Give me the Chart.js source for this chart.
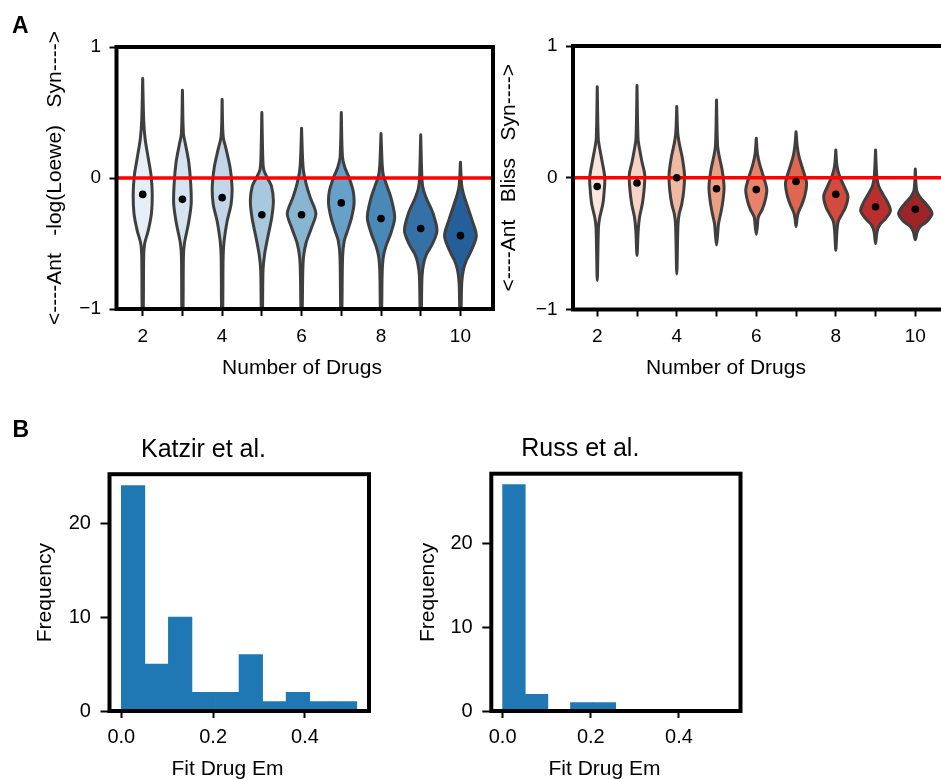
<!DOCTYPE html>
<html>
<head>
<meta charset="utf-8">
<script src="https://cdn.jsdelivr.net/npm/chart.js@4.4.0/dist/chart.umd.min.js"></script>
<style>
  html, body { margin: 0; padding: 0; background: #fff; overflow: hidden; width: 941px; height: 779px; }
  canvas { position: absolute; }
</style>
</head>
<body>
<canvas id="loewe" width="500" height="400" style="left:0;top:0"></canvas>
<canvas id="bliss" width="480" height="400" style="left:480px;top:0"></canvas>
<canvas id="katzir" width="400" height="369" style="left:0;top:410px"></canvas>
<canvas id="russ" width="400" height="369" style="left:400px;top:410px"></canvas>
<script>
Chart.defaults.font.family = "'Liberation Sans', Arial, Helvetica, sans-serif";
Chart.defaults.color = '#000';
Chart.defaults.animation = false;

// ---- data ----
var drugCounts = [2, 3, 4, 5, 6, 7, 8, 9, 10];

var loeweMedians = [-0.125, -0.163, -0.15, -0.28, -0.28, -0.19, -0.31, -0.385, -0.44];
var blissMedians = [-0.066, -0.04, 0.0, -0.084, -0.09, -0.028, -0.125, -0.22, -0.24];

// violin outline for each drug count, top to bottom: [score, half width (x units)]
var loeweShapes = [
  [[0.76, 0], [0.44, 0.025], [0.30, 0.06], [0.15, 0.14], [0.02, 0.21], [-0.12, 0.24], [-0.27, 0.22], [-0.40, 0.14], [-0.50, 0.05], [-0.60, 0.025], [-1.05, 0.012]],
  [[0.67, 0], [0.34, 0.025], [0.26, 0.075], [0.12, 0.16], [-0.05, 0.21], [-0.20, 0.22], [-0.35, 0.15], [-0.50, 0.05], [-0.60, 0.025], [-1.05, 0.012]],
  [[0.60, 0], [0.32, 0.025], [0.22, 0.10], [0.08, 0.20], [-0.07, 0.25], [-0.20, 0.225], [-0.33, 0.125], [-0.48, 0.05], [-0.60, 0.025], [-1.05, 0.012]],
  [[0.50, 0], [0.14, 0.025], [0.06, 0.05], [0.0, 0.14], [-0.06, 0.24], [-0.17, 0.29], [-0.30, 0.25], [-0.45, 0.15], [-0.58, 0.07], [-0.70, 0.03], [-1.05, 0.012]],
  [[0.38, 0], [0.15, 0.025], [0.05, 0.05], [-0.05, 0.12], [-0.15, 0.22], [-0.27, 0.36], [-0.38, 0.25], [-0.50, 0.11], [-0.60, 0.05], [-0.72, 0.03], [-1.05, 0.012]],
  [[0.50, 0], [0.16, 0.03], [0.08, 0.09], [0.0, 0.2], [-0.10, 0.30], [-0.20, 0.32], [-0.30, 0.26], [-0.40, 0.16], [-0.48, 0.075], [-0.60, 0.033], [-1.05, 0.012]],
  [[0.34, 0], [0.10, 0.03], [0.02, 0.06], [-0.06, 0.15], [-0.15, 0.25], [-0.30, 0.345], [-0.42, 0.25], [-0.52, 0.125], [-0.60, 0.06], [-0.72, 0.03], [-1.05, 0.012]],
  [[0.33, 0], [0.0, 0.03], [-0.08, 0.06], [-0.16, 0.15], [-0.27, 0.31], [-0.40, 0.41], [-0.50, 0.30], [-0.58, 0.15], [-0.65, 0.075], [-0.75, 0.033], [-1.05, 0.012]],
  [[0.12, 0], [-0.05, 0.03], [-0.12, 0.075], [-0.20, 0.16], [-0.32, 0.29], [-0.44, 0.40], [-0.55, 0.28], [-0.63, 0.15], [-0.70, 0.075], [-0.80, 0.033], [-1.05, 0.012]]
];

var blissShapes = [
  [[0.69, 0], [0.30, 0.025], [0.22, 0.063], [0.12, 0.125], [0.0, 0.19], [-0.10, 0.175], [-0.20, 0.14], [-0.30, 0.063], [-0.38, 0.03], [-0.78, 0]],
  [[0.70, 0], [0.30, 0.025], [0.22, 0.063], [0.12, 0.125], [0.02, 0.195], [-0.10, 0.175], [-0.20, 0.133], [-0.30, 0.063], [-0.40, 0.03], [-0.59, 0]],
  [[0.54, 0], [0.34, 0.025], [0.26, 0.063], [0.15, 0.14], [0.02, 0.195], [-0.10, 0.175], [-0.20, 0.125], [-0.28, 0.058], [-0.36, 0.03], [-0.73, 0]],
  [[0.59, 0], [0.25, 0.025], [0.17, 0.063], [0.06, 0.14], [-0.07, 0.19], [-0.17, 0.163], [-0.26, 0.113], [-0.35, 0.05], [-0.42, 0.03], [-0.51, 0]],
  [[0.30, 0], [0.18, 0.03], [0.10, 0.088], [0.0, 0.19], [-0.09, 0.265], [-0.17, 0.225], [-0.24, 0.15], [-0.30, 0.05], [-0.36, 0.03], [-0.43, 0]],
  [[0.35, 0], [0.24, 0.03], [0.16, 0.075], [0.06, 0.175], [-0.04, 0.265], [-0.13, 0.225], [-0.20, 0.15], [-0.26, 0.063], [-0.30, 0.03], [-0.37, 0]],
  [[0.21, 0], [0.09, 0.03], [0.02, 0.088], [-0.06, 0.2], [-0.14, 0.305], [-0.22, 0.25], [-0.28, 0.15], [-0.33, 0.063], [-0.40, 0.03], [-0.55, 0]],
  [[0.21, 0], [0.02, 0.03], [-0.06, 0.075], [-0.12, 0.175], [-0.18, 0.29], [-0.25, 0.375], [-0.31, 0.25], [-0.36, 0.1], [-0.41, 0.038], [-0.50, 0]],
  [[0.066, 0], [-0.09, 0.03], [-0.14, 0.1], [-0.20, 0.275], [-0.27, 0.42], [-0.33, 0.3], [-0.37, 0.125], [-0.41, 0.05], [-0.47, 0]]
];

var emBinEdges = [0, 0.0513, 0.1026, 0.1539, 0.2052, 0.2565, 0.3078, 0.3591, 0.4104, 0.4617, 0.513];
var katzirCounts = [24, 5, 10, 2, 2, 6, 1, 2, 1, 1];
var russCounts = [27, 2, 0, 1, 1, 0, 0, 0, 0, 0];

// ---- styles ----
var blues = ['#e6eef7', '#d6e3f0', '#c3d6e8', '#a8c8dd', '#88b5d1', '#67a0c8', '#4a88b8', '#3571a6', '#245f99'];
var reds = ['#fbe6df', '#f6d3c6', '#f0b9a2', '#ec9f85', '#e8826a', '#e0664f', '#d34b3e', '#bb2e2e', '#9d2428'];
var tickGrid = function (len) {
  return { drawOnChartArea: false, drawTicks: true, tickLength: len, tickWidth: 2, tickColor: '#000', color: '#000' };
};

// frame around the plot area, like matplotlib spines
var framePlugin = {
  id: 'frame',
  afterDatasetsDraw: function (chart) {
    var a = chart.chartArea;
    var ctx = chart.ctx;
    ctx.save();
    ctx.strokeStyle = '#000';
    ctx.lineWidth = 4;
    ctx.strokeRect(a.left, a.top, a.right - a.left, a.bottom - a.top);
    ctx.restore();
  }
};

// free text (panel letters, x labels)
function textLayer(items) {
  return {
    id: 'textLayer',
    afterDraw: function (chart) {
      var ctx = chart.ctx;
      items.forEach(function (t) {
        ctx.save();
        ctx.font = t.font;
        ctx.fillStyle = '#000';
        ctx.textAlign = t.align || 'center';
        ctx.textBaseline = 'alphabetic';
        ctx.fillText(t.text, t.x, t.y);
        ctx.restore();
      });
    }
  };
}

function minusFmt(v) {
  return v < 0 ? '\u2212' + Math.abs(v) : String(v);
}

function violinOutline(center, shape) {
  var pts = shape.map(function (p) { return { x: center - p[1], y: p[0] }; });
  for (var j = shape.length - 1; j >= 0; j--) {
    if (shape[j][1] > 0) pts.push({ x: center + shape[j][1], y: shape[j][0] });
  }
  pts.push({ x: pts[0].x, y: pts[0].y });
  return pts;
}

function violinChart(id, shapes, medians, palette, yTitle, g) {
  var datasets = [];
  datasets.push({
    data: drugCounts.map(function (d, i) { return { x: d, y: medians[i] }; }),
    showLine: false, pointRadius: 3.8, pointBackgroundColor: '#000', pointBorderWidth: 0, order: 0
  });
  datasets.push({
    data: [{ x: g.xMin, y: 0 }, { x: g.xMax, y: 0 }],
    borderColor: '#ff0000', borderWidth: 3.5, pointRadius: 0, order: 1
  });
  drugCounts.forEach(function (d, i) {
    datasets.push({
      data: violinOutline(d, shapes[i]),
      backgroundColor: palette[i], borderColor: '#3f3f3f', borderWidth: 3,
      fill: 'shape', tension: 0.3, pointRadius: 0, order: 2,
      borderJoinStyle: 'round', borderCapStyle: 'round'
    });
  });

  return new Chart(document.getElementById(id), {
    type: 'line',
    data: { datasets: datasets },
    options: {
      responsive: false,
      events: [],
      layout: { padding: g.padding },
      plugins: { legend: { display: false }, tooltip: { enabled: false } },
      scales: {
        x: {
          type: 'linear', min: g.xMin, max: g.xMax,
          afterFit: function (s) { s.height = g.xHeight; },
          border: { display: false },
          grid: tickGrid(7),
          ticks: {
            stepSize: 1, autoSkip: false, includeBounds: false, maxRotation: 0,
            padding: g.xTickPad, font: { size: 19 },
            callback: function (v) { return v % 2 === 0 ? String(v) : ''; }
          }
        },
        y: {
          type: 'linear', min: -1, max: 1,
          afterFit: function (s) { s.width = g.yWidth; },
          border: { display: false },
          grid: tickGrid(7),
          ticks: { stepSize: 1, padding: 8.5, font: { size: 19 }, callback: minusFmt },
          title: { display: true, text: yTitle, font: { size: 21 }, padding: { top: g.yTitlePad, bottom: 0 } }
        }
      }
    },
    plugins: [framePlugin, textLayer(g.texts)]
  });
}

function histChart(id, counts, title, g) {
  var data = counts.map(function (c, i) {
    return { x: (emBinEdges[i] + emBinEdges[i + 1]) / 2, y: c };
  });
  return new Chart(document.getElementById(id), {
    type: 'bar',
    data: {
      datasets: [{
        data: data, backgroundColor: '#1f77b4', borderWidth: 0,
        barPercentage: 1, categoryPercentage: 1
      }]
    },
    options: {
      responsive: false,
      events: [],
      layout: { padding: g.padding },
      plugins: {
        legend: { display: false },
        tooltip: { enabled: false },
        title: {
          display: true, text: title, color: '#000',
          font: { size: 25, weight: 'normal' },
          padding: g.titlePad
        }
      },
      scales: {
        x: {
          type: 'linear', min: -0.0257, max: 0.5396, offset: false,
          afterFit: function (s) { s.height = 68; },
          border: { display: false },
          grid: Object.assign(tickGrid(7), { offset: false }),
          ticks: {
            stepSize: 0.2, includeBounds: false, maxRotation: 0, padding: 7.1,
            font: { size: 20 },
            callback: function (v) { return v.toFixed(1); }
          }
        },
        y: {
          type: 'linear', min: 0, max: g.yMax,
          afterFit: function (s) { s.width = g.yWidth; },
          border: { display: false },
          grid: tickGrid(9),
          ticks: { stepSize: 10, includeBounds: false, padding: 9.6, font: { size: 20 } },
          title: { display: true, text: 'Frequency', font: { size: 21 }, padding: { top: g.yTitlePad, bottom: 0 } }
        }
      }
    },
    plugins: [framePlugin, textLayer(g.texts)]
  });
}

violinChart('loewe', loeweShapes, loeweMedians, blues, '<----Ant   -log(Loewe)   Syn---->', {
  xMin: 1.34, xMax: 10.82,
  padding: { left: 0, right: 7, top: 47, bottom: 0 },
  xHeight: 91, yWidth: 116.5, xTickPad: 9.3, yTitlePad: 43.1,
  texts: [
    { text: 'A', x: 12, y: 33.3, font: 'bold 23px "Liberation Sans", Arial, sans-serif', align: 'left' },
    { text: 'Number of Drugs', x: 302, y: 374, font: '21px "Liberation Sans", Arial, sans-serif' }
  ]
});

violinChart('bliss', blissShapes, blissMedians, reds, '<----Ant   Bliss   Syn---->', {
  xMin: 1.39, xMax: 10.86,
  padding: { left: 0, right: 10.5, top: 46, bottom: 0 },
  xHeight: 90.5, yWidth: 93, xTickPad: 8.8, yTitlePad: 17.1,
  texts: [
    { text: 'Number of Drugs', x: 246, y: 374, font: '21px "Liberation Sans", Arial, sans-serif' }
  ]
});

histChart('katzir', katzirCounts, 'Katzir et al.', {
  padding: { left: 38, right: 31, top: 0, bottom: 0 },
  titlePad: { top: 25, bottom: 9.2 },
  yMax: 25.2, yWidth: 71.5, yTitlePad: -4.9,
  texts: [
    { text: 'B', x: 12.5, y: 27.3, font: 'bold 23px "Liberation Sans", Arial, sans-serif', align: 'left' },
    { text: 'Fit Drug Em', x: 227.5, y: 365, font: '21px "Liberation Sans", Arial, sans-serif' }
  ]
});

histChart('russ', russCounts, 'Russ et al.', {
  padding: { left: 20.1, right: 59.5, top: 0, bottom: 0 },
  titlePad: { top: 24.4, bottom: 9.3 },
  yMax: 28.3, yWidth: 71.2, yTitlePad: -4.0,
  texts: [
    { text: 'Fit Drug Em', x: 204.5, y: 365, font: '21px "Liberation Sans", Arial, sans-serif' }
  ]
});
</script>
</body>
</html>
